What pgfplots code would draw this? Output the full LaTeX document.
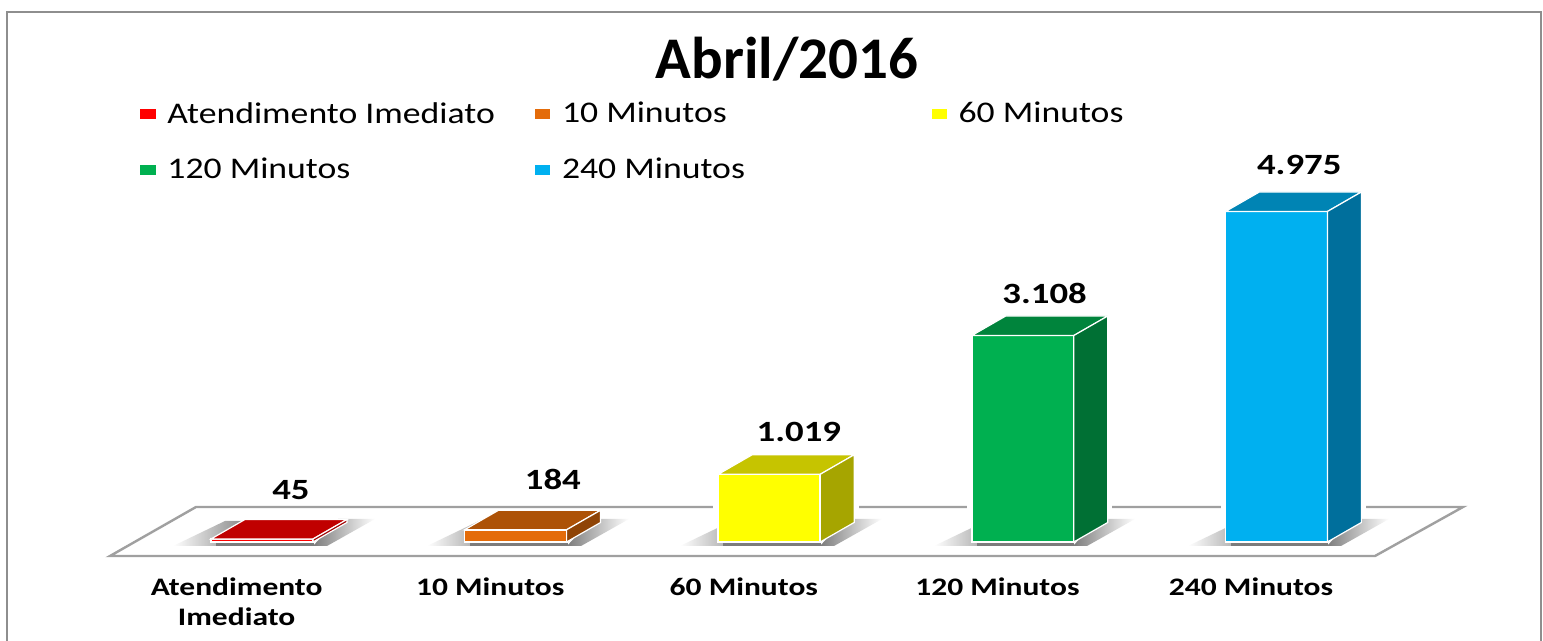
\documentclass[border=0pt]{standalone}
\usepackage{pgfplots}
\pgfplotsset{compat=1.18}
\usepackage{fontspec}
\setmainfont{Carlito}
\newfontfamily\legfont[FakeStretch=1.19]{Carlito}
\newfontfamily\labfont[FakeStretch=1.25,BoldFont=Carlito Bold]{Carlito}
\definecolor{framegray}{HTML}{8E8E8E}
\definecolor{floorgray}{HTML}{A0A0A0}
\definecolor{shad}{HTML}{7C7C7C}
\definecolor{cR}{HTML}{FF0000}\definecolor{cRt}{HTML}{C00000}\definecolor{cRs}{HTML}{A00000}
\definecolor{cO}{HTML}{E46C0A}\definecolor{cOt}{HTML}{AD5207}\definecolor{cOs}{HTML}{8F4406}
\definecolor{cY}{HTML}{FFFF00}\definecolor{cYt}{HTML}{C6C400}\definecolor{cYs}{HTML}{A6A500}
\definecolor{cG}{HTML}{00B050}\definecolor{cGt}{HTML}{00843C}\definecolor{cGs}{HTML}{007034}
\definecolor{cB}{HTML}{00B0F0}\definecolor{cBt}{HTML}{0084B4}\definecolor{cBs}{HTML}{006F9C}
\newcommand{\shadowat}[2]{% left and right edge of a bar, in px
  \path[left color=white,right color=shad] ({#1-38},546) -- ({#1+6},546) -- ({#1+40},521) -- ({#1+14},521) -- cycle;
  \path[fill=shad] ({#1+5},546) rectangle ({#2+1},543);
  \path[left color=shad,right color=white] ({#2},546) -- ({#2+14},546) -- ({#2+62},519) -- ({#2+25},519) -- cycle;
}
\newcommand{\gapat}[2]{\path[draw=white,line width=1.6pt] ({#1-5},507) -- ({#2+39},507);}
\begin{document}
\begin{tikzpicture}
% backdrop in pixel units: frame, floor, shadows
\begin{axis}[at={(0,0)},anchor=south west,scale only axis,width=771.5pt,height=320.5pt,
  xmin=0,xmax=1543,ymin=0,ymax=641,y dir=reverse,hide axis,clip=true]
\addplot[fill=white,draw=none] coordinates {(0,0)(1543,0)(1543,641)(0,641)} --cycle;
\addplot[draw=framegray,line width=1pt] coordinates {(7,641)(7,12)(1541,12)(1541,641)};
\addplot[draw=floorgray,line width=1.2pt,fill=white] coordinates {(110,556)(1375,556)(1463,507)(196,507)} --cycle;
\shadowat{211}{313}
\shadowat{465}{567}
\shadowat{718}{820}
\shadowat{972}{1073}
\shadowat{1226}{1327}
\gapat{718}{820}
\gapat{972}{1073}
\gapat{1226}{1327}
\end{axis}
% data axis, zero on the floor
\begin{axis}[at={(0,49.5pt)},anchor=south west,scale only axis,width=771.5pt,height=271pt,
  xmin=-1.03312,xmax=5.05126,ymin=0,ymax=8159,clip=false,
  axis y line=none,axis x line*=bottom,axis line style={draw=none},
  major tick length=0pt,
  xtick={-0.1,0.9,1.9,2.9,3.9},
  xticklabels={Atendimento\\Imediato,10 Minutos,60 Minutos,120 Minutos,240 Minutos},
  xticklabel style={align=center,anchor=north,yshift=-14.5pt,font=\labfont\bfseries\fontsize{12.6}{15}\selectfont},
  title={Abril/2016},
  title style={at={(axis description cs:0.51,0.869)},anchor=center,font=\bfseries\fontsize{29.5}{32}\selectfont},
  legend columns=3,
  legend style={at={(axis description cs:0.0897,0.738)},anchor=west,draw=none,fill=none,inner sep=0pt,
    font=\legfont\fontsize{15}{17}\selectfont,
    /tikz/every even column/.append style={column sep=0pt},
    row sep=12pt},
  legend cell align=left,
  legend image code/.code={\fill[#1] (0pt,-3pt) rectangle (8.5pt,3pt);},
  /pgf/number format/assume math mode=true,
  /pgf/number format/1000 sep={.},
]
% front faces
\addplot[ybar,bar width=51pt,bar shift=0pt,fill=cR,draw=white,line width=0.8pt] coordinates {(0,45)};
\addlegendentry{\hspace{3pt}\makebox[181pt][l]{Atendimento Imediato}}
\addplot[ybar,bar width=51pt,bar shift=0pt,fill=cO,draw=white,line width=0.8pt] coordinates {(1,184)};
\addlegendentry{\hspace{3pt}\makebox[182pt][l]{10 Minutos}}
\addplot[ybar,bar width=51pt,bar shift=0pt,fill=cY,draw=white,line width=0.8pt] coordinates {(2,1019)};
\addlegendentry{\hspace{3pt}60 Minutos}
\addplot[ybar,bar width=51pt,bar shift=0pt,fill=cG,draw=white,line width=0.8pt] coordinates {(3,3108)};
\addlegendentry{\hspace{3pt}120 Minutos}
\addplot[ybar,bar width=51pt,bar shift=0pt,fill=cB,draw=white,line width=0.8pt] coordinates {(4,4975)};
\addlegendentry{\hspace{3pt}240 Minutos}
% tops
\addplot[fill=cRt,draw=white,line width=0.6pt,forget plot] coordinates {(-0.2011,45)(-0.0671,339)(0.3351,339)(0.2011,45)} --cycle;
\addplot[fill=cOt,draw=white,line width=0.6pt,forget plot] coordinates {(0.7989,184)(0.9329,478)(1.3351,478)(1.2011,184)} --cycle;
\addplot[fill=cYt,draw=white,line width=0.6pt,forget plot] coordinates {(1.7989,1019)(1.9329,1313)(2.3351,1313)(2.2011,1019)} --cycle;
\addplot[fill=cGt,draw=white,line width=0.6pt,forget plot] coordinates {(2.7989,3108)(2.9329,3402)(3.3351,3402)(3.2011,3108)} --cycle;
\addplot[fill=cBt,draw=white,line width=0.6pt,forget plot] coordinates {(3.7989,4975)(3.9329,5269)(4.3351,5269)(4.2011,4975)} --cycle;
% sides
\addplot[fill=cRs,draw=white,line width=0.6pt,forget plot] coordinates {(0.2011,0)(0.2011,45)(0.3351,339)(0.3351,294)} --cycle;
\addplot[fill=cOs,draw=white,line width=0.6pt,forget plot] coordinates {(1.2011,0)(1.2011,184)(1.3351,478)(1.3351,294)} --cycle;
\addplot[fill=cYs,draw=white,line width=0.6pt,forget plot] coordinates {(2.2011,0)(2.2011,1019)(2.3351,1313)(2.3351,294)} --cycle;
\addplot[fill=cGs,draw=white,line width=0.6pt,forget plot] coordinates {(3.2011,0)(3.2011,3108)(3.3351,3402)(3.3351,294)} --cycle;
\addplot[fill=cBs,draw=white,line width=0.6pt,forget plot] coordinates {(4.2011,0)(4.2011,4975)(4.3351,5269)(4.3351,294)} --cycle;
% value labels
\addplot[only marks,mark=none,forget plot,point meta=explicit,
  nodes near coords,
  nodes near coords style={anchor=center,text=black,inner sep=0pt,font=\labfont\bfseries\fontsize{14.7}{15}\selectfont}]
  coordinates {(0.114,783)[45] (1.147,948)[184] (2.117,1656)[1019] (3.086,3748)[3108] (4.09,5675)[4975]};
\end{axis}
\end{tikzpicture}
\end{document}
